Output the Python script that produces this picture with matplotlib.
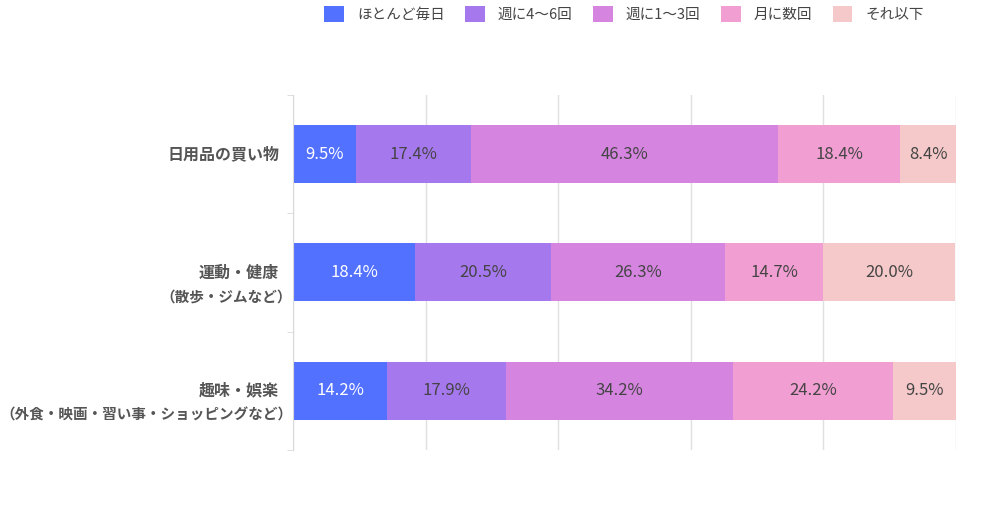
import matplotlib.pyplot as plt
import matplotlib.transforms as mtransforms
import numpy as np

plt.rcParams['font.family'] = ['Noto Sans CJK JP', 'DejaVu Sans']

# カテゴリ（1行目, 2行目）
cat_main = ['日用品の買い物', '運動・健康', '趣味・娯楽']
cat_sub = ['', '（散歩・ジムなど）', '（外食・映画・習い事・ショッピングなど）']
series_names = ['ほとんど毎日', '週に4〜6回', '週に1〜3回', '月に数回', 'それ以下']
values = [
    [9.5, 18.4, 14.2],
    [17.4, 20.5, 17.9],
    [46.3, 26.3, 34.2],
    [18.4, 14.7, 24.2],
    [8.4, 20.0, 9.5],
]
colors = ['#5271ff', '#a678ee', '#d585e0', '#f19ed2', '#f5c9c9']
text_colors = ['white', '#444444', '#444444', '#444444', '#444444']

fig = plt.figure(figsize=(10, 5.19), dpi=100)
ax = fig.add_axes([0.293, 0.133, 0.663, 0.684])

y = np.arange(len(cat_main))
left = np.zeros(len(cat_main))
handles = []
for name, vals, col, tcol in zip(series_names, values, colors, text_colors):
    vals = np.array(vals)
    bars = ax.barh(y, vals, left=left, height=0.49, color=col, label=name, zorder=2)
    handles.append(bars)
    for yi, l, v in zip(y, left, vals):
        ax.text(l + v / 2, yi, f'{v:.1f}%', ha='center', va='center',
                color=tcol, fontsize=12, zorder=3)
    left += vals

ax.set_xlim(0, 100)
ax.set_ylim(2.5, -0.5)
ax.set_xticks([0, 20, 40, 60, 80, 100])
ax.set_xticklabels([])
ax.tick_params(axis='x', length=0)
ax.grid(axis='x', color='#e0e0e0', linewidth=1, zorder=0)
ax.set_yticks([])
ax.set_yticks([-0.5, 0.5, 1.5, 2.5], minor=True)
ax.tick_params(axis='y', which='minor', length=4, color='#d9d9d9')
for s in ['top', 'right', 'bottom']:
    ax.spines[s].set_visible(False)
ax.spines['left'].set_color('#d9d9d9')

# 項目ラベル
base = mtransforms.blended_transform_factory(ax.transAxes, ax.transData)
t_main = mtransforms.offset_copy(base, fig=fig, x=-14, y=0, units='dots')
t_sub = mtransforms.offset_copy(base, fig=fig, x=-1, y=-24, units='dots')
for yi, m, s in zip(y, cat_main, cat_sub):
    ax.text(0, yi, m, transform=t_main, ha='right', va='center',
            fontsize=11.5, fontweight='bold', color='#555555')
    if s:
        ax.text(0, yi, s, transform=t_sub, ha='right', va='center',
                fontsize=10.5, fontweight='bold', color='#555555')

fig.legend(handles=handles, labels=series_names, loc='upper center',
           bbox_to_anchor=(0.624, 1.014), ncol=5, frameon=False,
           fontsize=10.5, handlelength=1.35, handleheight=1.35,
           columnspacing=1.4, handletextpad=0.9, labelcolor='#444444')

fig.savefig('out.png', dpi=100)
